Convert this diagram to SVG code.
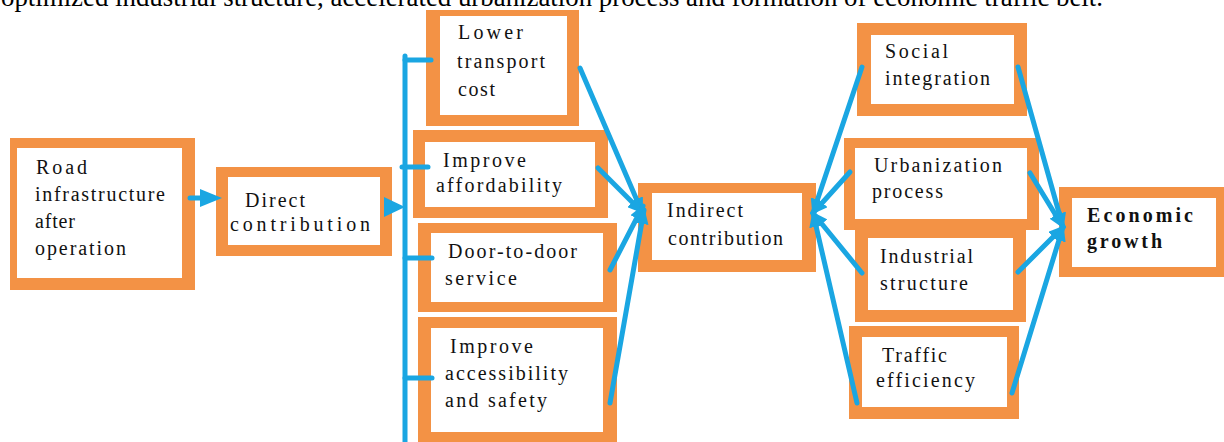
<svg xmlns="http://www.w3.org/2000/svg" width="1224" height="442" viewBox="0 0 1224 442">
<style>
.o{fill:#F39245}
.w{fill:#FFFFFF}
.t{font-family:"Liberation Serif","Times New Roman",serif;font-size:20px;fill:#111111}
.b{font-weight:bold}
.cap{font-family:"Liberation Serif","Times New Roman",serif;font-size:27px;fill:#000000}
.c{stroke:#1AA6E2;stroke-width:5;fill:none;stroke-linecap:round}
.ah{fill:#1AA6E2}
</style>
<defs>
<marker id="arr" markerUnits="userSpaceOnUse" markerWidth="16" markerHeight="14" refX="14" refY="7" orient="auto">
<path d="M0,0 L16,7 L0,14 Z" fill="#1AA6E2"/>
</marker>
</defs>
<rect width="1224" height="442" fill="#FFFFFF"/>
<text class="cap" x="1" y="6" textLength="1102" lengthAdjust="spacingAndGlyphs">optimized industrial structure, accelerated urbanization process and formation of economic traffic belt.</text>

<g id="node-road">
<rect class="o" x="10" y="138" width="185" height="152"/>
<rect class="w" x="17" y="148" width="165" height="130"/>
<text class="t" x="36" y="174" textLength="51">Road</text>
<text class="t" x="35" y="201" textLength="130">infrastructure</text>
<text class="t" x="35" y="228" textLength="40">after</text>
<text class="t" x="35" y="255" textLength="91">operation</text>
</g>

<g id="node-direct">
<rect class="o" x="216" y="167" width="176" height="89"/>
<rect class="w" x="228" y="177" width="152" height="68"/>
<text class="t" x="245" y="207" textLength="60">Direct</text>
<text class="t" x="230" y="231" textLength="140">contribution</text>
</g>

<g id="node-lower">
<rect class="o" x="426" y="10" width="153" height="116"/>
<rect class="w" x="440" y="16" width="127" height="99"/>
<text class="t" x="458" y="39" textLength="65">Lower</text>
<text class="t" x="457" y="68" textLength="88">transport</text>
<text class="t" x="458" y="96" textLength="37">cost</text>
</g>

<g id="node-afford">
<rect class="o" x="413" y="130" width="195" height="88"/>
<rect class="w" x="425" y="142" width="170" height="65"/>
<text class="t" x="443" y="167" textLength="83">Improve</text>
<text class="t" x="436" y="192" textLength="126">affordability</text>
</g>

<g id="node-door">
<rect class="o" x="418" y="223" width="199" height="89"/>
<rect class="w" x="431" y="233" width="172" height="69"/>
<text class="t" x="448" y="258" textLength="129">Door-to-door</text>
<text class="t" x="445" y="285" textLength="72">service</text>
</g>

<g id="node-access">
<rect class="o" x="418" y="317" width="199" height="125"/>
<rect class="w" x="431" y="328" width="172" height="104"/>
<text class="t" x="450" y="353" textLength="83">Improve</text>
<text class="t" x="445" y="380" textLength="123">accessibility</text>
<text class="t" x="445" y="407" textLength="102">and safety</text>
</g>

<g id="node-indirect">
<rect class="o" x="638" y="183" width="178" height="89"/>
<rect class="w" x="652" y="193" width="150" height="67"/>
<text class="t" x="667" y="217" textLength="76">Indirect</text>
<text class="t" x="668" y="245" textLength="115">contribution</text>
</g>

<g id="node-social">
<rect class="o" x="857" y="23" width="170" height="93"/>
<rect class="w" x="871" y="35" width="143" height="69"/>
<text class="t" x="885" y="58" textLength="63">Social</text>
<text class="t" x="885" y="85" textLength="105">integration</text>
</g>

<g id="node-urban">
<rect class="o" x="844" y="138" width="195" height="92"/>
<rect class="w" x="855" y="148" width="172" height="71"/>
<text class="t" x="874" y="172" textLength="128">Urbanization</text>
<text class="t" x="872" y="198" textLength="71">process</text>
</g>

<g id="node-industrial">
<rect class="o" x="855" y="230" width="171" height="92"/>
<rect class="w" x="868" y="238" width="145" height="72"/>
<text class="t" x="880" y="263" textLength="93">Industrial</text>
<text class="t" x="880" y="290" textLength="88">structure</text>
</g>

<g id="node-traffic">
<rect class="o" x="849" y="326" width="170" height="93"/>
<rect class="w" x="862" y="337" width="145" height="70"/>
<text class="t" x="882" y="362" textLength="65">Traffic</text>
<text class="t" x="876" y="387" textLength="99">efficiency</text>
</g>

<g id="node-economic">
<rect class="o" x="1059" y="187" width="165" height="90"/>
<rect class="w" x="1072" y="198" width="144" height="69"/>
<text class="t b" x="1087" y="222" textLength="106">Economic</text>
<text class="t b" x="1087" y="248" textLength="75">growth</text>
</g>

<g id="connectors">
<line class="c" x1="190" y1="198" x2="202" y2="198" stroke-width="9" stroke-linecap="butt"/>
<path class="ah" d="M200,189 L222,198 L200,207 Z"/>
<path class="ah" d="M384,197 L405,207 L384,217 Z"/>
<line class="c" x1="405" y1="56" x2="405" y2="442"/>
<line class="c" x1="405" y1="60" x2="431" y2="60"/>
<line class="c" x1="402" y1="167" x2="428" y2="167"/>
<line class="c" x1="405" y1="258" x2="432" y2="258"/>
<line class="c" x1="405" y1="378" x2="432" y2="378"/>
<line class="c" x1="580" y1="68" x2="642" y2="212" marker-end="url(#arr)"/>
<line class="c" x1="598" y1="168" x2="642" y2="212" marker-end="url(#arr)"/>
<line class="c" x1="610" y1="270" x2="643" y2="206" marker-end="url(#arr)"/>
<line class="c" x1="610" y1="403" x2="644" y2="210" marker-end="url(#arr)"/>
<line class="c" x1="862" y1="67" x2="813" y2="213" marker-end="url(#arr)"/>
<line class="c" x1="850" y1="172" x2="813" y2="213" marker-end="url(#arr)"/>
<line class="c" x1="862" y1="273" x2="813" y2="213" marker-end="url(#arr)"/>
<line class="c" x1="857" y1="403" x2="813" y2="213" marker-end="url(#arr)"/>
<line class="c" x1="1018" y1="67" x2="1063" y2="227" marker-end="url(#arr)"/>
<line class="c" x1="1030" y1="173" x2="1063" y2="227" marker-end="url(#arr)"/>
<line class="c" x1="1018" y1="272" x2="1063" y2="227" marker-end="url(#arr)"/>
<line class="c" x1="1012" y1="393" x2="1063" y2="227" marker-end="url(#arr)"/>
</g>
</svg>
